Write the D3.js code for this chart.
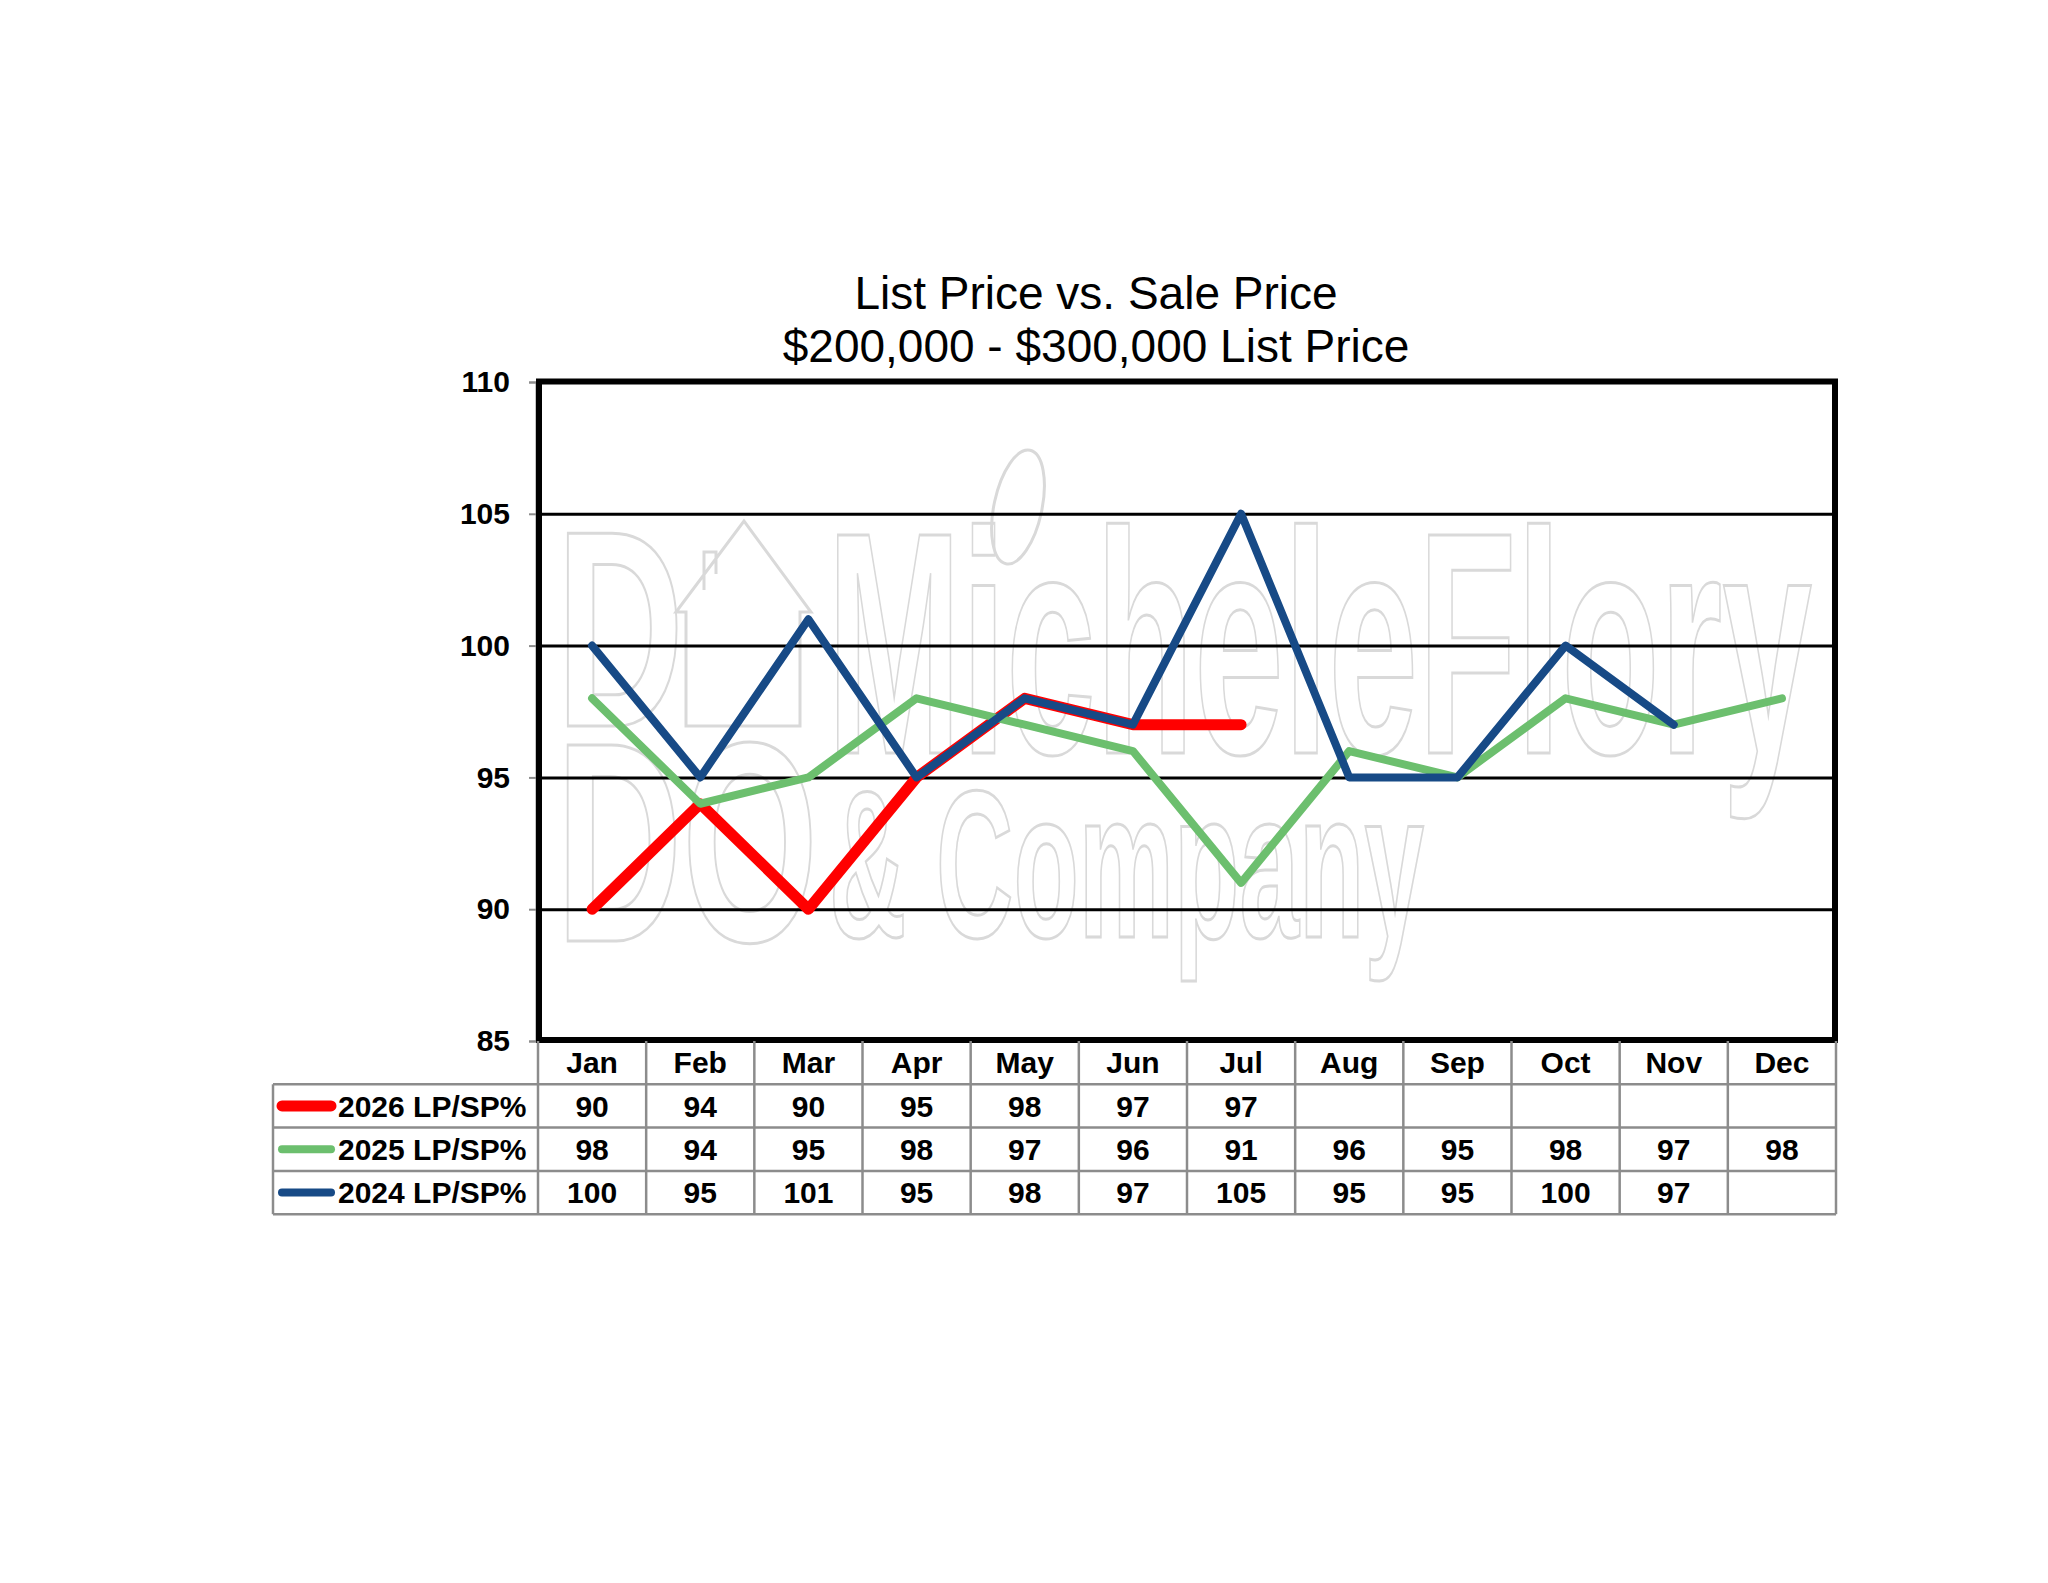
<!DOCTYPE html>
<html>
<head>
<meta charset="utf-8">
<script src="https://cdn.jsdelivr.net/npm/d3@7"></script>
<style>
  body { margin: 0; background: #fff; }
  text { font-family: "Liberation Sans", Arial, sans-serif; }
</style>
</head>
<body>
<div id="container"></div>
<script>
const WIDTH = 2048;
const HEIGHT = 1583;

// data
const months = ["Jan", "Feb", "Mar", "Apr", "May", "Jun", "Jul", "Aug", "Sep", "Oct", "Nov", "Dec"];
const lp2026 = [90, 94, 90, 95, 98, 97, 97, null, null, null, null, null];
const lp2025 = [98, 94, 95, 98, 97, 96, 91, 96, 95, 98, 97, 98];
const lp2024 = [100, 95, 101, 95, 98, 97, 105, 95, 95, 100, 97, null];
const yTicks = [85, 90, 95, 100, 105, 110];
const seriesNames = ["2026 LP/SP%", "2025 LP/SP%", "2024 LP/SP%"];

const series = [
  { name: seriesNames[0], values: lp2026, color: "#ff0000", width: 11 },
  { name: seriesNames[1], values: lp2025, color: "#6cbf6e", width: 8 },
  { name: seriesNames[2], values: lp2024, color: "#174a86", width: 8 },
];

// layout
const LEFT = 538;
const RIGHT = 1836;
const TOP = 382;
const BOTTOM = 1041;
const TABLE_LEFT = 273;
const ROW_H = 43.3;
const GRID = "#8c8c8c";

const svg = d3
  .select("div#container")
  .append("svg")
  .attr("width", WIDTH)
  .attr("height", HEIGHT);

const xScale = d3.scalePoint().domain(months).range([LEFT, RIGHT]).padding(0.5);
const yScale = d3.scaleLinear().domain([85, 110]).range([BOTTOM, TOP]);
const step = xScale.step();

// title
const title = svg
  .append("text")
  .attr("x", 1096)
  .attr("text-anchor", "middle")
  .style("font-size", "46px")
  .attr("fill", "#000");
title.append("tspan").attr("x", 1096).attr("y", 309).text("List Price vs. Sale Price");
title.append("tspan").attr("x", 1096).attr("y", 362).text("$200,000 - $300,000 List Price");

// watermark (faint outlined logo behind the plot)
const wm = svg.append("g").attr("fill", "none").attr("stroke", "#d9d9d9").attr("stroke-width", 3);
wm.append("text")
  .attr("x", 827).attr("y", 753)
  .attr("textLength", 985).attr("lengthAdjust", "spacingAndGlyphs")
  .style("font-size", "317px")
  .style("font-weight", "bold")
  .text("MicheleFlory");
wm.append("text")
  .attr("x", 829).attr("y", 937)
  .attr("textLength", 595).attr("lengthAdjust", "spacingAndGlyphs")
  .style("font-size", "210px")
  .style("font-weight", "bold")
  .text("& Company");
wm.append("text")
  .attr("x", 556).attr("y", 726)
  .attr("textLength", 128).attr("lengthAdjust", "spacingAndGlyphs")
  .style("font-size", "280px")
  .style("font-weight", "bold")
  .text("D");
wm.append("text")
  .attr("x", 556).attr("y", 941)
  .attr("textLength", 262).attr("lengthAdjust", "spacingAndGlyphs")
  .style("font-size", "285px")
  .style("font-weight", "bold")
  .text("DO");
wm.append("path")
  .attr("d", "M686,726 L686,612 L676,612 L744,521 L811,612 L800,612 L800,726 Z M704,590 L704,552 L716,552 L716,574");
wm.append("ellipse")
  .attr("cx", 1018).attr("cy", 507).attr("rx", 24).attr("ry", 58)
  .attr("transform", "rotate(12,1018,507)");

// gridlines
svg
  .append("g")
  .attr("transform", `translate(${LEFT}, 0)`)
  .call(d3.axisLeft(yScale).tickValues([90, 95, 100, 105]).tickSize(-(RIGHT - LEFT)).tickFormat(""))
  .call((g) => g.select(".domain").remove())
  .call((g) => g.selectAll(".tick line").attr("stroke", "#000").attr("stroke-width", 3));

// y axis
svg
  .append("g")
  .attr("transform", `translate(${LEFT - 2}, 0)`)
  .call(d3.axisLeft(yScale).tickValues(yTicks).tickSize(7).tickPadding(19))
  .call((g) => g.select(".domain").attr("stroke", GRID).attr("stroke-width", 2))
  .call((g) => g.selectAll(".tick line").attr("stroke", GRID).attr("stroke-width", 2))
  .call((g) =>
    g.selectAll(".tick text")
      .attr("fill", "#000")
      .style("font-size", "30px")
      .style("font-weight", "bold")
      .style("font-family", '"Liberation Sans", Arial, sans-serif')
  );

// lines
const line = d3
  .line()
  .defined((d) => d != null)
  .x((_, i) => xScale(months[i]))
  .y((d) => yScale(d));

svg
  .selectAll("path.series")
  .data(series)
  .enter()
  .append("path")
  .attr("class", "series")
  .attr("fill", "none")
  .attr("stroke", (d) => d.color)
  .attr("stroke-width", (d) => d.width)
  .attr("stroke-linejoin", "round")
  .attr("stroke-linecap", "round")
  .attr("d", (d) => line(d.values));

// plot border
svg
  .append("rect")
  .attr("x", LEFT + 1)
  .attr("y", TOP - 0.5)
  .attr("width", RIGHT - LEFT - 2)
  .attr("height", BOTTOM - TOP - 0.5)
  .attr("fill", "none")
  .attr("stroke", "#000")
  .attr("stroke-width", 6);

// data table
const table = svg.append("g").attr("stroke", GRID).attr("stroke-width", 2.5);
const tableBottom = BOTTOM + ROW_H * 4;
months.forEach((m) => {
  const x0 = xScale(m) - step / 2;
  table.append("line").attr("x1", x0).attr("x2", x0).attr("y1", BOTTOM).attr("y2", tableBottom);
});
table.append("line").attr("x1", RIGHT).attr("x2", RIGHT).attr("y1", BOTTOM).attr("y2", tableBottom);
table.append("line").attr("x1", TABLE_LEFT).attr("x2", TABLE_LEFT).attr("y1", BOTTOM + ROW_H).attr("y2", tableBottom);
for (let r = 1; r <= 4; r++) {
  const y = BOTTOM + ROW_H * r;
  table.append("line").attr("x1", TABLE_LEFT).attr("x2", RIGHT).attr("y1", y).attr("y2", y);
}

const cellText = (x, y, str, anchor) =>
  svg
    .append("text")
    .attr("x", x)
    .attr("y", y)
    .attr("dy", "0.36em")
    .attr("text-anchor", anchor || "middle")
    .style("font-size", "30px")
    .style("font-weight", "bold")
    .text(str);

months.forEach((m) => cellText(xScale(m), BOTTOM + ROW_H / 2, m));

series.forEach((s, r) => {
  const cy = BOTTOM + ROW_H * (r + 1) + ROW_H / 2;
  svg
    .append("line")
    .attr("x1", 282)
    .attr("x2", 331)
    .attr("y1", cy)
    .attr("y2", cy)
    .attr("stroke", s.color)
    .attr("stroke-width", s.width)
    .attr("stroke-linecap", "round");
  cellText(338, cy, s.name, "start");
  s.values.forEach((v, i) => {
    if (v != null) cellText(xScale(months[i]), cy, v);
  });
});
</script>
</body>
</html>
